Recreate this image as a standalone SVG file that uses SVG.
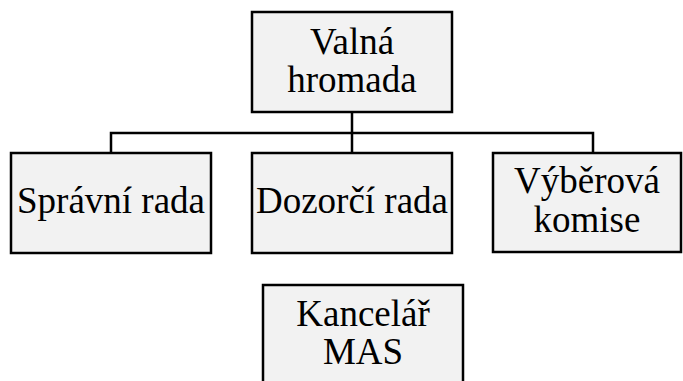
<svg xmlns="http://www.w3.org/2000/svg" width="683" height="381" viewBox="0 0 683 381">
<style>
.box{fill:#f2f2f2;stroke:#000;stroke-width:2.5}
.c{fill:none;stroke:#000;stroke-width:2.5}
</style>
<rect width="683" height="381" fill="#fff"/>
<g id="connectors">
<path class="c" d="M352 112V153M111 153V133H593V153"/>
</g>
<g font-family="Liberation Serif, serif" font-size="37" text-anchor="middle" fill="#000">
<g id="valna">
<rect class="box" x="252" y="12" width="200" height="100"/>
<text x="352" y="54">Valná</text>
<text x="352" y="92">hromada</text>
</g>
<g id="spravni">
<rect class="box" x="11" y="153" width="200" height="100"/>
<text x="111" y="213">Správní rada</text>
</g>
<g id="dozorci">
<rect class="box" x="252" y="153" width="200" height="100"/>
<text x="352" y="213">Dozorčí rada</text>
</g>
<g id="vyberova">
<rect class="box" x="493" y="153" width="188" height="99"/>
<text x="587" y="193">Výběrová</text>
<text x="587" y="232">komise</text>
</g>
<g id="kancelar">
<rect class="box" x="263" y="285" width="200" height="110"/>
<text x="363" y="326">Kancelář</text>
<text x="363" y="364">MAS</text>
</g>
</g>
</svg>
